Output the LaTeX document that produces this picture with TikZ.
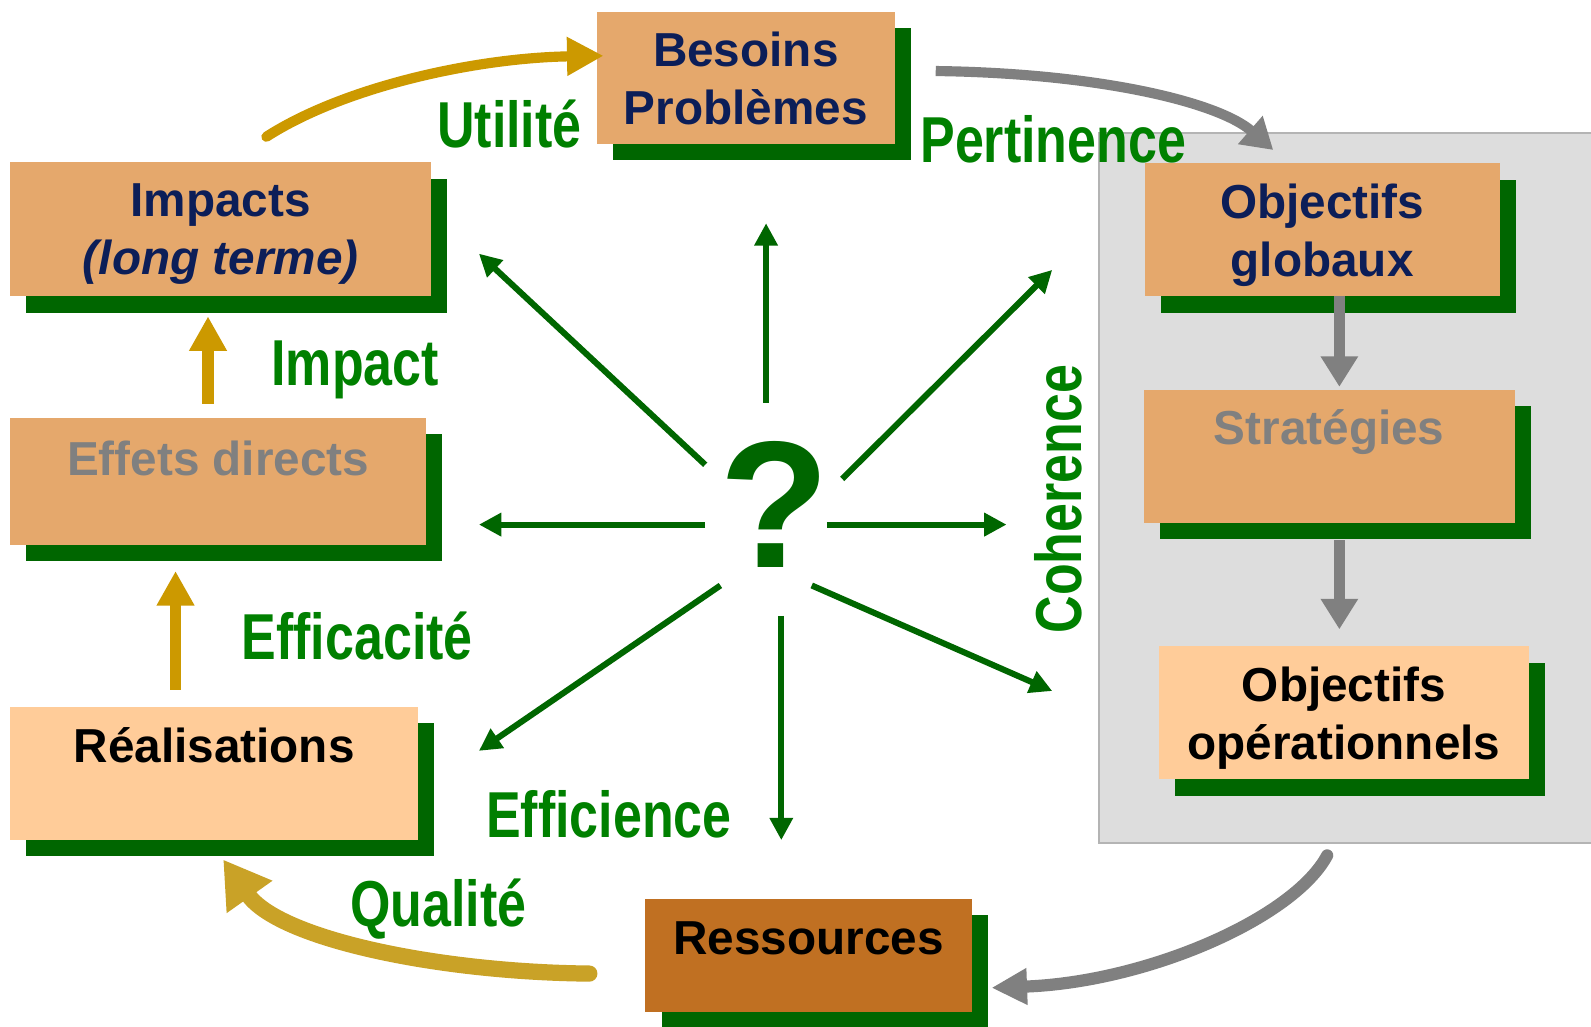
\documentclass[tikz,border=0pt]{standalone}
\usepackage{fontspec}
\setmainfont{Liberation Sans}
\newfontfamily\narrowfont[FakeStretch=0.8]{Liberation Sans}
\usetikzlibrary{arrows.meta,shadows,positioning}

\definecolor{orangebox}{RGB}{229,168,108}
\definecolor{peachbox}{RGB}{255,204,153}
\definecolor{brownbox}{RGB}{192,112,34}
\definecolor{shadowgreen}{RGB}{0,102,0}
\definecolor{navytext}{RGB}{12,30,88}
\definecolor{labelgreen}{RGB}{0,128,0}
\definecolor{raygreen}{RGB}{0,102,0}
\definecolor{gold}{RGB}{204,153,0}
\definecolor{oldgold}{RGB}{201,162,39}
\definecolor{panelgray}{RGB}{221,221,221}
\definecolor{panelborder}{RGB}{180,180,180}
\definecolor{arrowgray}{RGB}{128,128,128}

\begin{document}
\begin{tikzpicture}[x=1pt, y=-1pt,
box/.style={
    minimum width=#1,
    minimum height=131pt,
    align=center,
    inner sep=0pt,
    font=\bfseries\fontsize{47}{57}\selectfont,
    drop shadow={shadow xshift=16pt, shadow yshift=-16pt, fill=shadowgreen, opacity=1},
    },
crit/.style={
    anchor=base,
    text=labelgreen,
    font=\narrowfont\bfseries\fontsize{64}{64}\selectfont,
    },
ray/.style={draw=raygreen, line width=6pt, -{Triangle[length=22pt, width=22pt]}},
goldarrow/.style={draw=gold, line width=10pt, line cap=round, -{Triangle[length=36pt, width=36pt]}},
grayarrow/.style={draw=arrowgray, line width=11pt, -{Triangle[length=30pt, width=35pt]}},
]

\useasboundingbox (0,0) rectangle (1568,1012);
\fill[white] (0,0) rectangle (1568,1012);

% grey frame of the objectives
\node[draw=panelborder, fill=panelgray, line width=2pt, minimum width=520pt,
  minimum height=700pt, anchor=north west] (cadre) at (1082,130) {};

% boxes
\node[box=294pt, minimum height=130pt, fill=orangebox, text=navytext] (besoins) at (735,77) {Besoins\\Problèmes};
\node[box=415pt, minimum height=132pt, fill=orangebox, text=navytext] (impacts) at (217.5,226) {Impacts\\\smash{\textit{(long terme)}}};
\node[box=410pt, minimum height=125pt, fill=orangebox, text=arrowgray] (effets) at (215,474.5) {Effets directs\\[-12pt]~};
\node[box=402pt, fill=peachbox] (realis) at (211,762.5) {Réalisations\\~};
\node[box=322pt, minimum height=111pt, fill=brownbox] (ressources) at (797,941.5) {Ressources\\[-24pt]~};
\node[box=350pt, fill=orangebox, text=navytext] (objglob) at (1303,226.5) {Objectifs\\\smash{globaux}};
\node[box=366pt, fill=orangebox, text=arrowgray] (strat) at (1310,449.5) {Stratégies\\~};
\node[box=365pt, fill=peachbox] (objop) at (1324.5,702.5) {Objectifs\\\smash{opérationnels}};

% grey arrows
\draw[grayarrow] ([xshift=17pt]objglob.south) -- ++(0,89);
\draw[grayarrow] ([xshift=10pt, yshift=-17pt]strat.south) -- ++(0,88);
\draw[grayarrow, line width=10pt] ([shift={(40,-7)}]besoins.east)
  .. controls (1080,72) and (1200,100) .. ([shift={(127,-13)}]objglob.north west);
\draw[grayarrow, line width=12pt, line cap=round, -{Triangle[length=35pt, width=34pt]}]
  ([shift={(-35,11)}]cadre.south) .. controls (1275,905) and (1130,968) .. ([shift={(19,32)}]ressources.east);

% gold arrows
\draw[goldarrow] ([shift={(45,-25)}]impacts.north)
  .. controls (340,85) and (470,57) .. ([shift={(7,-22)}]besoins.west);
\draw[goldarrow, line cap=butt, line width=11pt, -{Triangle[length=34pt, width=35pt]}]
  ([xshift=-10pt, yshift=14pt]effets.north) -- ++(0,-86);
\draw[goldarrow, line cap=butt, line width=11pt, -{Triangle[length=34pt, width=35pt]}]
  ([xshift=-38pt, yshift=17pt]realis.north) -- ++(0,-117);
\draw[goldarrow, draw=oldgold, line width=16pt, -{Triangle[length=45pt, width=52pt]}]
  ([shift={(-55,18)}]ressources.west) .. controls (430,958) and (275,925) .. ([shift={(9,19)}]realis.south);

% question mark and its rays
\node[text=raygreen, font=\bfseries\fontsize{178}{178}\selectfont, inner sep=0pt] (quest) at (763,497) {?};
\foreach \sx/\sy/\ex/\ey in {-8/-100/-8/-277, -68/-39/-291/-247, 67/-25/274/-231,
    -68/20/-291/20, 52/20/229/20, -53/80/-291/243, 7/110/7/331, 37/80/274/184}
  \draw[ray] ([shift={(\sx,\sy)}]quest.center) -- ([shift={(\ex,\ey)}]quest.center);

% criteria
\node[crit] (utilite) at (502,145) {Utilité};
\node[crit] (pertinence) at (1038,160) {Pertinence};
\node[crit] (impact) at (350,380) {Impact};
\node[crit] (efficacite) at (352,650) {Efficacité};
\node[crit] (efficience) at (600,825) {Efficience};
\node[crit] (qualite) at (432,913) {Qualité};
\node[crit, rotate=90] (coherence) at (1066,492) {Coherence};
\end{tikzpicture}
\end{document}
